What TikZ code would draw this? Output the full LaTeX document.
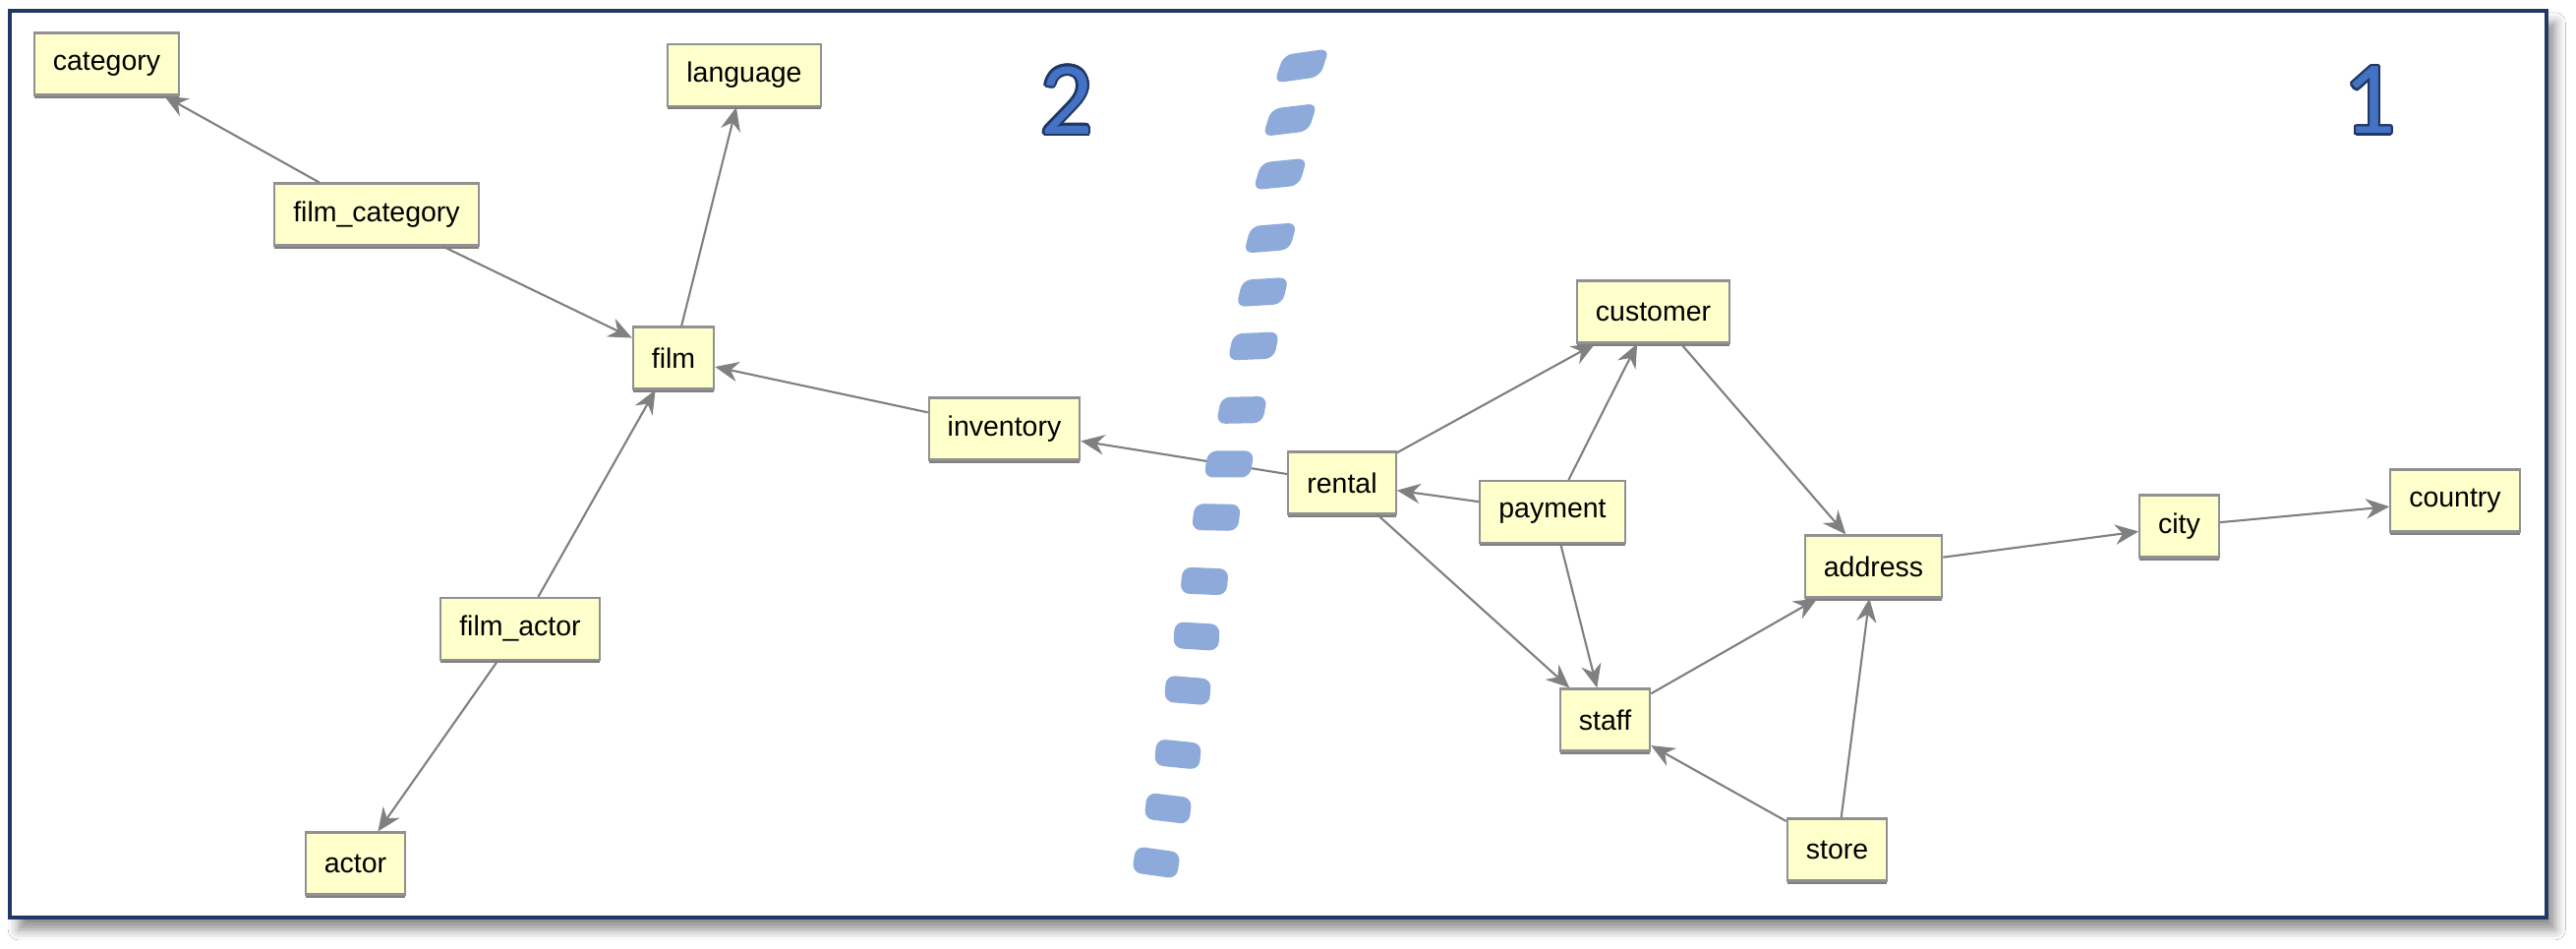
\documentclass[tikz,border=0pt]{standalone}
\usepackage{fontspec}
\setmainfont{Liberation Sans}
\newfontfamily\nummerfont{Carlito}
\usepackage{contour}
\usetikzlibrary{arrows.meta,shadows,shadows.blur}

\definecolor{tabelgul}{RGB}{255,255,204}
\definecolor{tabelkant}{RGB}{145,145,145}
\definecolor{pilgraa}{RGB}{128,128,128}
\definecolor{klatblaa}{RGB}{142,170,219}
\definecolor{nummerblaa}{RGB}{68,114,196}
\definecolor{nummerkant}{RGB}{31,56,100}
\definecolor{rammeblaa}{RGB}{31,56,100}
\contourlength{0.65pt}

\begin{document}
\begin{tikzpicture}
   [
    x=0.01cm, y=-0.01cm,
    tabel/.style={rectangle, fill=tabelgul, draw=tabelkant, line width=0.6pt,
                  inner xsep=0.19cm, inner ysep=0pt, minimum height=0.63cm,
                  font=\fontsize{8.1}{9.7}\selectfont,
                  drop shadow={shadow xshift=0pt, shadow yshift=-0.9pt,
                               fill=black!50, opacity=1}},
    pil/.style={draw=pilgraa, line width=0.6pt,
                -{Stealth[length=6.8pt, width=5.8pt, inset=2.2pt]}},
    klat/.style={fill=klatblaa, rounded corners=2.6pt},
    nummer/.style={font=\nummerfont\fontsize{30}{33}\selectfont,
                   text=nummerblaa, inner sep=0pt},
    ramme/.style={draw=rammeblaa, line width=0.9pt, fill=white,
                  blur shadow={shadow xshift=2.5pt, shadow yshift=-3.5pt,
                               shadow blur radius=3pt, shadow opacity=45}}
   ]

\fill[white] (0,0) rectangle (2620,965);
\path[ramme] (10,11) rectangle (2590,933);

% left side
\node[tabel] (category)     at (108.5,65)  {category};
\node[tabel] (language)     at (757,76.5)  {language};
\node[tabel] (filmcategory) at (383,218)   {film\_category};
\node[tabel] (film)         at (685,364)   {film};
\node[tabel] (filmactor)    at (529,639.5) {film\_actor};
\node[tabel] (actor)        at (361.5,878) {actor};
\node[tabel] (inventory)    at (1021.5,436) {inventory};

% right side
\node[tabel] (rental)   at (1365,491)    {rental};
\node[tabel] (payment)  at (1579,520.5)  {payment};
\node[tabel] (customer) at (1681.5,317)  {customer};
\node[tabel] (address)  at (1905.5,576)  {address};
\node[tabel] (city)     at (2216.5,535)  {city};
\node[tabel] (country)  at (2497,509)    {country};
\node[tabel] (staff)    at (1632.5,732)  {staff};
\node[tabel] (store)    at (1868.5,864)  {store};

% relations
\draw[pil] (filmcategory) -- (category);
\draw[pil] (filmcategory) -- (film);
\draw[pil] (film) -- (language);
\draw[pil] (filmactor) -- (film);
\draw[pil] (filmactor) -- (actor);
\draw[pil] (inventory) -- (film);
\draw[pil] (rental) -- (inventory);
\draw[pil] (rental) -- (customer);
\draw[pil] (rental) -- (staff);
\draw[pil] (payment) -- (rental);
\draw[pil] (payment) -- (customer);
\draw[pil] (payment) -- (staff);
\draw[pil] (customer) -- (address);
\draw[pil] (staff) -- (address);
\draw[pil] (store) -- (staff);
\draw[pil] (store) -- (address);
\draw[pil] (address) -- (city);
\draw[pil] (city) -- (country);

% dividing line
\fill[klat, shift={(1324,67)},  rotate=8,    xslant=0.5]  (-23.5,-13.5) rectangle (23.5,13.5);
\fill[klat, shift={(1312,122)}, rotate=6.9,  xslant=0.45] (-23.5,-13.5) rectangle (23.5,13.5);
\fill[klat, shift={(1302,177)}, rotate=5.7,  xslant=0.4]  (-23.5,-13.5) rectangle (23.5,13.5);
\fill[klat, shift={(1292,242)}, rotate=4.6,  xslant=0.35] (-23.5,-13.5) rectangle (23.5,13.5);
\fill[klat, shift={(1284,297)}, rotate=3.4,  xslant=0.3]  (-23.5,-13.5) rectangle (23.5,13.5);
\fill[klat, shift={(1275,352)}, rotate=2.3,  xslant=0.25] (-23.5,-13.5) rectangle (23.5,13.5);
\fill[klat, shift={(1263,417)}, rotate=1.1,  xslant=0.2]  (-23.5,-13.5) rectangle (23.5,13.5);
\fill[klat, shift={(1250,472)}, rotate=0,    xslant=0.15] (-23.5,-13.5) rectangle (23.5,13.5);
\fill[klat, shift={(1237,526)}, rotate=-1.1, xslant=0.1]  (-23.5,-13.5) rectangle (23.5,13.5);
\fill[klat, shift={(1225,591)}, rotate=-2.3, xslant=0.05] (-23.5,-13.5) rectangle (23.5,13.5);
\fill[klat, shift={(1217,647)}, rotate=-3.4] (-23,-13.5) rectangle (23,13.5);
\fill[klat, shift={(1208,702)}, rotate=-4.6] (-23,-13.5) rectangle (23,13.5);
\fill[klat, shift={(1198,767)}, rotate=-5.7] (-23,-13.5) rectangle (23,13.5);
\fill[klat, shift={(1188,822)}, rotate=-6.9] (-23,-13.5) rectangle (23,13.5);
\fill[klat, shift={(1176,877)}, rotate=-8]   (-23,-13.5) rectangle (23,13.5);

% numbers
\node[nummer] (to)  at (1085,103) {\contour{nummerkant}{2}};
\node[nummer] (een) at (2410,103) {\contour{nummerkant}{1}};

\end{tikzpicture}
\end{document}
